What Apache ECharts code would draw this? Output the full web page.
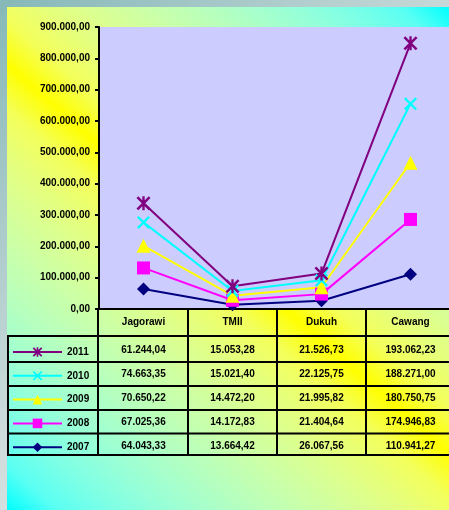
<!DOCTYPE html>
<html>
<head>
<meta charset="utf-8">
<script src="https://cdn.jsdelivr.net/npm/echarts@6/dist/echarts.min.js"></script>
<style>
  html, body { margin: 0; padding: 0; background: #c8d8d8; }
  #chart { width: 449px; height: 510px; }
</style>
</head>
<body>
<div id="chart"></div>
<script>
// Toll gate categories and yearly values (one array per year)
const categories = ['Jagorawi', 'TMII', 'Dukuh', 'Cawang'];
const v2007 = [64043.33, 13664.42, 26067.56, 110941.27];
const v2008 = [67025.36, 14172.83, 21404.64, 174946.83];
const v2009 = [70650.22, 14472.20, 21995.82, 180750.75];
const v2010 = [74663.35, 15021.40, 22125.75, 188271.00];
const v2011 = [61244.04, 15053.28, 21526.73, 193062.23];
const years = ['2007', '2008', '2009', '2010', '2011'];
const yearValues = [v2007, v2008, v2009, v2010, v2011];
// Rows of the data table, top to bottom
const tableOrder = ['2011', '2010', '2009', '2008', '2007'];
const yMin = 0, yMax = 900000, yStep = 100000;

// Number format: 1.234.567,89
function fmt(v) {
  const neg = v < 0;
  const s = Math.abs(v).toFixed(2);
  const parts = s.split('.');
  const intPart = parts[0].replace(/\B(?=(\d{3})+(?!\d))/g, '.');
  return (neg ? '-' : '') + intPart + ',' + parts[1];
}

const FONT = "'Liberation Sans', Arial, sans-serif";

// Marker shapes
const X_PATH = 'path://M0,1.5L1.5,0L6,4.5L10.5,0L12,1.5L7.5,6L12,10.5L10.5,12L6,7.5L1.5,12L0,10.5L4.5,6Z';
const STAR_PATH = 'path://M0,1.5L1.5,0L6,4.5L10.5,0L12,1.5L7.5,6L12,10.5L10.5,12L6,7.5L1.5,12L0,10.5L4.5,6Z' +
                  'M5,0L7,0L7,12L5,12Z';

const seriesStyle = {
  '2007': { color: '#000080', symbol: 'diamond', size: 13 },
  '2008': { color: '#ff00ff', symbol: 'rect', size: 13 },
  '2009': { color: '#ffff00', symbol: 'triangle', size: 14 },
  '2010': { color: '#00ffff', symbol: X_PATH, size: 13 },
  '2011': { color: '#800080', symbol: STAR_PATH, size: 14 }
};

// Layout (the plot runs slightly past the right edge of the canvas)
const GRID_LEFT = 99, GRID_TOP = 27, GRID_BOTTOM_Y = 309, GRID_W = 356;
const W = 449, H = 510;
const colW = GRID_W / categories.length;
const rowLines = [336, 362, 386, 410, 433.5, 455];
const rowCenter0 = 350.5, rowStep = 23.9;

// Cyan corners (top-right, bottom-left) fading to a yellow diagonal band
function softStops() {
  const stops = [];
  const n = 10;
  for (let i = 0; i <= n; i++) {
    const f = i / n;           // 0 = cyan, 1 = yellow
    const r = Math.round(255 * Math.pow(f, 1 / 2.2));
    const b = Math.round(255 * Math.pow(1 - f, 1 / 2.2));
    stops.push({ offset: f * 0.5, color: `rgb(${r},255,${b})` });
  }
  for (let i = 1; i <= n; i++) {
    const f = i / n;           // 0 = yellow, 1 = cyan
    const r = Math.round(255 * Math.pow(1 - f, 1 / 2.2));
    const b = Math.round(255 * Math.pow(f, 1 / 2.2));
    stops.push({ offset: 0.5 + f * 0.5, color: `rgb(${r},255,${b})` });
  }
  return stops;
}

const chart = echarts.init(document.getElementById('chart'), null, { renderer: 'canvas' });

const series = years.map((y, i) => ({
  name: y,
  type: 'line',
  stack: 'total',
  data: yearValues[i],
  symbol: seriesStyle[y].symbol,
  symbolSize: seriesStyle[y].size,
  showAllSymbol: true,
  clip: false,
  lineStyle: { color: seriesStyle[y].color, width: 2 },
  itemStyle: { color: seriesStyle[y].color },
  emphasis: { disabled: true },
  z: 3
}));

// Data table: grid lines and cell texts
const tableGraphics = [];
const lineStyle = { stroke: '#000', lineWidth: 2 };
rowLines.forEach(y => {
  tableGraphics.push({ type: 'line', shape: { x1: 8, y1: y, x2: W, y2: y }, style: lineStyle, z: 10, silent: true });
});
tableGraphics.push({ type: 'line', shape: { x1: 8, y1: rowLines[0] - 1, x2: 8, y2: rowLines[rowLines.length - 1] + 1 }, style: lineStyle, z: 10, silent: true });
tableGraphics.push({ type: 'line', shape: { x1: GRID_LEFT - 1, y1: GRID_BOTTOM_Y, x2: GRID_LEFT - 1, y2: rowLines[rowLines.length - 1] + 1 }, style: lineStyle, z: 10, silent: true });
for (let c = 1; c < categories.length; c++) {
  const x = Math.round(GRID_LEFT + c * colW);
  tableGraphics.push({ type: 'line', shape: { x1: x, y1: GRID_BOTTOM_Y, x2: x, y2: rowLines[rowLines.length - 1] + 1 }, style: lineStyle, z: 10, silent: true });
}
tableOrder.forEach((y, r) => {
  const vals = yearValues[years.indexOf(y)];
  vals.forEach((v, c) => {
    tableGraphics.push({
      type: 'text',
      x: GRID_LEFT + (c + 0.5) * colW,
      y: rowCenter0 + r * rowStep,
      z: 10,
      silent: true,
      style: {
        text: fmt(v),
        fill: '#000',
        font: `bold 10px ${FONT}`,
        align: 'center',
        verticalAlign: 'middle'
      }
    });
  });
});

const option = {
  animation: false,
  backgroundColor: new echarts.graphic.LinearGradient(0, 0, 1, 1, [
    { offset: 0, color: '#86b8b8' },
    { offset: 0.5, color: '#d0dcdc' },
    { offset: 1, color: '#eef2f2' }
  ]),
  graphic: [
    {
      type: 'rect',
      shape: { x: 7, y: 7, width: W - 7, height: H - 7 },
      style: { fill: new echarts.graphic.LinearGradient(1, 0, 0, 1, softStops()) },
      z: -10,
      silent: true
    }
  ].concat(tableGraphics),
  legend: {
    data: tableOrder,
    orient: 'vertical',
    left: 7,
    top: 342,
    itemWidth: 49,
    itemHeight: 12,
    itemGap: 13.8,
    selectedMode: false,
    textStyle: { color: '#000', fontSize: 10, fontWeight: 'bold', fontFamily: FONT }
  },
  grid: {
    left: GRID_LEFT,
    top: GRID_TOP,
    right: W - GRID_LEFT - GRID_W,
    bottom: H - GRID_BOTTOM_Y,
    outerBoundsMode: 'none',
    show: true,
    backgroundColor: '#ccccff',
    borderWidth: 0,
    containLabel: false
  },
  xAxis: {
    type: 'category',
    data: categories,
    boundaryGap: true,
    axisLine: { show: true, lineStyle: { color: '#000', width: 2 } },
    axisTick: { show: false },
    axisLabel: { color: '#000', fontSize: 10, fontWeight: 'bold', fontFamily: FONT, margin: 8, interval: 0 },
    splitLine: { show: false }
  },
  yAxis: {
    type: 'value',
    min: yMin,
    max: yMax,
    interval: yStep,
    axisLine: { show: true, lineStyle: { color: '#000', width: 2 } },
    axisTick: { show: true, inside: false, length: 4, lineStyle: { color: '#000', width: 2 } },
    axisLabel: { color: '#000', fontSize: 10, fontWeight: 'bold', fontFamily: FONT, margin: 9, formatter: v => fmt(v) },
    splitLine: { show: false }
  },
  series: series
};

chart.setOption(option);
</script>
</body>
</html>
